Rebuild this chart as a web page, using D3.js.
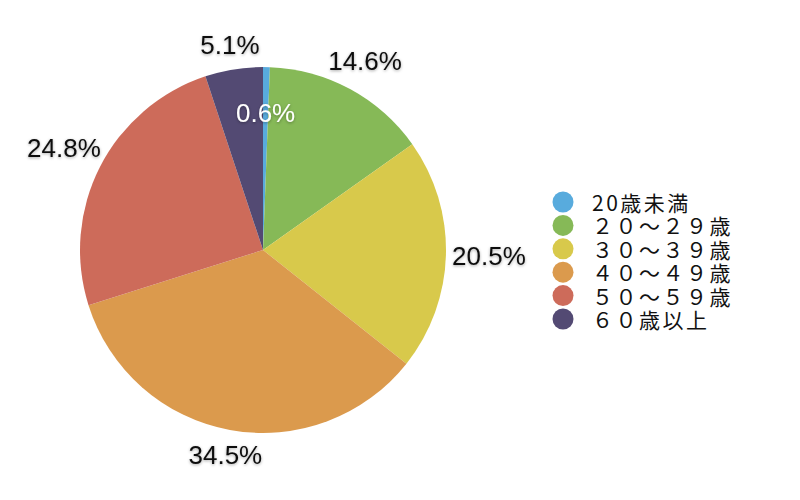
<!DOCTYPE html>
<html>
<head>
<meta charset="utf-8">
<script src="https://cdn.jsdelivr.net/npm/d3@7"></script>
<style>
  body { margin: 0; background: #fff; }
</style>
</head>
<body>
<div id="chart"></div>
<script>
// data
var categories = ["20歳未満", "２０～２９歳", "３０～３９歳", "４０～４９歳", "５０～５９歳", "６０歳以上"];
var values = [0.6, 14.6, 20.5, 34.5, 24.8, 5.1];
var colors = ["#58abdd", "#86b957", "#d8c94b", "#db9a4d", "#cd6b5a", "#534a73"];

var w = 800, h = 500;
var cx = 263, cy = 250, r = 183;

var svg = d3.select("#chart").append("svg")
	.attr("width", w)
	.attr("height", h);

var defs = svg.append("defs");
var f = defs.append("filter").attr("id", "shadow").attr("x", "-20%").attr("y", "-20%").attr("width", "140%").attr("height", "140%");
f.append("feDropShadow").attr("dx", 0).attr("dy", 1).attr("stdDeviation", 1.5).attr("flood-color", "#000").attr("flood-opacity", 0.35);

var pie = d3.pie().sort(null).value(function(d) { return d; });
var arcs = pie(values);
var arc = d3.arc().innerRadius(0).outerRadius(r);

var g = svg.append("g").attr("transform", "translate(" + cx + "," + cy + ")");

// slices
g.selectAll("path")
	.data(arcs)
	.enter()
	.append("path")
	.attr("d", arc)
	.attr("fill", function(d, i) { return colors[i]; });

// labels
g.selectAll("text.lbl")
	.data(arcs)
	.enter()
	.append("text")
	.attr("class", "lbl")
	.text(function(d) { return d.data.toFixed(1) + "%"; })
	.attr("x", function(d, i) {
		var a = (d.startAngle + d.endAngle) / 2;
		var rr = i == 0 ? 137 : 204 + 22 * Math.abs(Math.sin(a));
		return Math.sin(a) * rr;
	})
	.attr("y", function(d, i) {
		var a = (d.startAngle + d.endAngle) / 2;
		var rr = i == 0 ? 137 : 204 + 22 * Math.abs(Math.sin(a));
		return -Math.cos(a) * rr;
	})
	.attr("text-anchor", "middle")
	.attr("dominant-baseline", "central")
	.attr("font-family", "Liberation Sans, Arial, sans-serif")
	.attr("font-size", "26px")
	.attr("fill", function(d, i) { return i == 0 ? "#fff" : "#111"; })
	.attr("filter", "url(#shadow)");

// legend
var legend = svg.append("g");
var ly = d3.scalePoint().domain(d3.range(categories.length)).range([202, 319]);

legend.selectAll("circle")
	.data(categories)
	.enter()
	.append("circle")
	.attr("cx", 563)
	.attr("cy", function(d, i) { return ly(i); })
	.attr("r", 10.5)
	.attr("fill", function(d, i) { return colors[i]; });

legend.selectAll("text")
	.data(categories)
	.enter()
	.append("text")
	.text(function(d) { return d; })
	.attr("x", 592)
	.attr("y", function(d, i) { return ly(i); })
	.attr("dominant-baseline", "central")
	.attr("font-family", "Noto Sans CJK JP, sans-serif")
	.attr("font-size", "21px")
	.attr("letter-spacing", "2.5px")
	.attr("fill", "#111");
</script>
</body>
</html>
